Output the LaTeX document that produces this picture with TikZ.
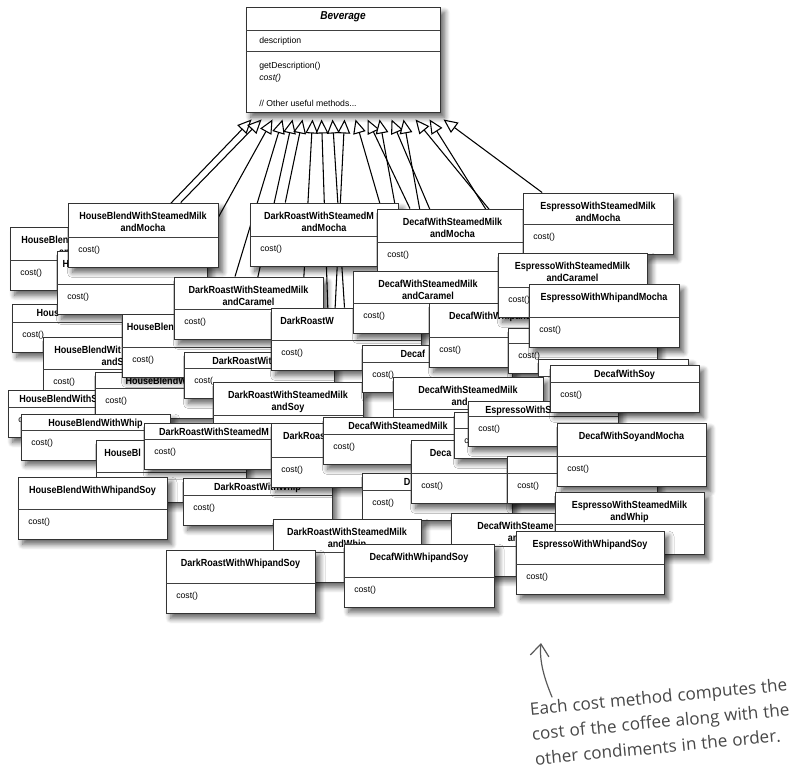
\documentclass[tikz,border=0pt]{standalone}
\usepackage{fontspec}
\setmainfont{Liberation Sans}
\newfontfamily\titlefont{Liberation Sans}[FakeStretch=0.88]
\newfontfamily\handfont{Open Sans}
\usetikzlibrary{arrows.meta,calc,fit,shadows.blur}
\pgfdeclarelayer{links}
\pgfsetlayers{links,main}

\tikzset{
  classframe/.style={draw=black!80, line width=0.7pt, fill=white, inner sep=0pt,
    blur shadow={shadow xshift=3.5pt, shadow yshift=-4pt, shadow blur radius=4pt,
                 shadow blur steps=7, shadow opacity=62}},
  classrule/.style={draw=black!75, line width=0.6pt},
  classtitle/.style={font=\titlefont\bfseries\fontsize{7.7pt}{9.4pt}\selectfont,
    align=center, anchor=north, inner sep=0pt},
  classop/.style={font=\fontsize{6.5pt}{8pt}\selectfont, anchor=west, inner sep=0pt},
  generalization/.style={draw=black, line width=0.8pt,
    -{Triangle[length=10.5pt,width=9.5pt,fill=white,line width=0.8pt]}},
  noteword/.style={font=\handfont\fontsize{12.8pt}{15pt}\selectfont, text=black!72,
    inner sep=0pt, anchor=base west, rotate=5.5},
  notearrow/.style={draw=black!65, line width=0.9pt, line cap=round,
    -{Straight Barb[length=9pt,width=14pt,line width=0.9pt]}},
}

% the part of a label that sits under a box in front keeps its room but is not set
\newcommand\hid[1]{\phantom{#1}}

% \umlclass[operation]{name}{left}{top}{width}{header height}{title}
\newcommand\umlclass[7][cost()]{%
  \pgfmathsetmacro\umltitletop{#4+((#6)>25?8.6:4.4)}%
  \node[classframe, fit={(#3,#4) (#3+#5,#4+#6+30)}] (#2) {};
  \draw[classrule] (#3,#4+#6) -- (#3+#5,#4+#6);
  \node[classtitle] (#2-title) at (#3+#5/2,\umltitletop) {#7};
  \node[classop] (#2-op) at (#3+10,#4+#6+13) {#1};
}

% \noteline{name}{start}{words}: one slanted line of the remark, word by word
\newcommand\noteline[3]{%
  \node[noteword] (#1-0) at #2 {};
  \foreach \w [count=\i, evaluate=\i as \j using int(\i-1)] in {#3}
    \node[noteword] (#1-\i) at ($(#1-\j.base east)+(5.5:3.4pt)$) {\w};
}

\begin{document}
\begin{tikzpicture}[x=0.75pt,y=-0.75pt]
\useasboundingbox (0,0) rectangle (810,775);

% abstract superclass
\node[classframe, fit={(246,7) (440,112)}] (bev) {};
\draw[classrule] (246,30) -- (440,30);
\draw[classrule] (246,51) -- (440,51);
\node[classtitle, anchor=center, font=\titlefont\bfseries\itshape\fontsize{8.6pt}{10pt}\selectfont]
  (bev-title) at (343,17) {Beverage};
\node[classop] (bev-attr) at (259,41) {description};
\node[classop] (bev-op1) at (259,66) {getDescription()};
\node[classop] (bev-op2) at (259,78) {\itshape cost()};
\node[classop] (bev-op3) at (259,103) {// Other useful methods...};

\foreach \n/\dx in {1/6,2/16,3/27,4/37,5/47,6/57,7/67,8/76,9/87,10/99,
                    11/110,12/122,13/134,14/146,15/158,16/170,17/184,18/198}
  \coordinate (tip\n) at ($(bev.south west)+(\dx,7)$);

% subclasses, back to front
\umlclass{A}{10}{227}{150}{33}{HouseBlen\hid{dWithSteamedMilk}\\an\hid{dCaramel}}
\umlclass{D}{12}{304}{150}{18}{Hous\hid{eBlendWithMocha}}
\umlclass{B}{57}{251}{150}{33}{H\hid{ouseBlendWithWhipandMocha}}
\umlclass{C}{68}{203}{150}{34}{HouseBlendWithSteamedMilk\\andMocha}
\umlclass{E}{43}{337}{150}{32}{HouseBlendWit\hid{hSteamedMilk}\\andS\hid{oy}}
\umlclass[c\hid{ost()}]{H}{8}{390}{150}{17}{HouseBlendWithS\hid{teamedMilk}}
\umlclass{G}{95}{372}{150}{16}{HouseBlendW\hid{ithSoy}}
\umlclass{F}{122}{314}{150}{33}{HouseBlen\hid{dWithSoyandCaramel}}
\umlclass{M}{174}{277}{149}{32}{DarkRoastWithSteamedMilk\\andCaramel}
\umlclass[cost(\hid{)}]{O}{184}{352}{150}{16}{DarkRoastWit\hid{hMocha}}
\umlclass{N}{271}{308}{150}{32}{DarkRoastW\hid{ithWhipandMocha}}
\umlclass[\hid{cost()}]{P}{213}{382}{150}{33}{DarkRoastWithSteamedMilk\\andSoy}
\umlclass{I}{21}{414}{149}{16}{HouseBlendWithWhip}
\umlclass[\hid{cost()}]{J}{96}{440}{150}{32}{HouseBl\hid{endWithSoyandMocha}}
\umlclass{Q}{144}{423}{150}{16}{DarkRoastWithSteamedM\hid{ilk}}
\umlclass{K}{18}{477}{149}{32}{HouseBlendWithWhipandSoy}
\umlclass{S}{183}{478}{149}{17}{DarkRoastWithWhip}
\umlclass{R}{271}{423}{150}{34}{DarkRoas\hid{tWithSoyandMocha}}
\umlclass{L}{250}{203}{148}{33}{DarkRoastWithSteamedM\hid{ilk}\\andMocha}
\umlclass{W}{377}{209}{151}{33}{DecafWithSteamedMilk\\andMocha}
\umlclass{X}{523}{193}{150}{31}{EspressoWithSteamedMilk\\andMocha}
\umlclass{Y}{353}{271}{150}{32}{DecafWithSteamedMilk\\andCaramel}
\umlclass{AF}{362}{345}{150}{17}{Decaf\hid{WithMocha}}
\umlclass{AA}{429}{303}{151}{34}{DecafWithWhipand\hid{Mocha}}
\umlclass{Z}{498}{253}{149}{34}{EspressoWithSteamedMilk\\andCaramel}
\umlclass{AC}{508}{328}{149}{15}{\hid{EspressoWithMocha}}
\umlclass{AB}{529}{284}{150}{33}{EspressoWithWhipandMocha}
\umlclass[\hid{cost()}]{AD}{538}{359}{150}{17}{\hid{EspressoWithCaramel}}
\umlclass[\hid{cost()}]{AG}{393}{377}{150}{32}{DecafWithSteamedMilk\\and\hid{Soy}}
\umlclass{AJ}{323}{417}{150}{17}{DecafWithSteamedMilk}
\umlclass{AL}{362}{473}{150}{17}{D\hid{ecafWithWhip}}
\umlclass{AK}{411}{440}{150}{33}{Deca\hid{fWithSoyandCaramel}}
\umlclass[c\hid{ost()}]{AI}{454}{412}{150}{16}{\hid{EspressoWithSoy}}
\umlclass{AH}{468}{401}{150}{15}{EspressoWithS\hid{teamedMilk}}
\umlclass{AE}{550}{365}{149}{17}{DecafWithSoy}
\umlclass{AM}{507}{456}{150}{17}{\hid{Espre}E\hid{ssoWithWhip}}
\umlclass{AN}{557}{423}{149}{33}{DecafWithSoyandMocha}
\umlclass[\hid{cost()}]{T}{273}{519}{148}{33}{DarkRoastWithSteamedMilk\\andWhip}
\umlclass[\hid{cost()}]{AP}{451}{513}{152}{33}{DecafWithSteame\hid{dMilk}\\an\hid{dWhip}}
\umlclass[\hid{cost()}]{AO}{555}{492}{149}{32}{EspressoWithSteamedMilk\\andWhip}
\umlclass{AQ}{516}{531}{148}{33}{EspressoWithWhipandSoy}
\umlclass{U}{166}{550}{149}{33}{DarkRoastWithWhipandSoy}
\umlclass{V}{344}{544}{150}{33}{DecafWithWhipandSoy}

% inheritance links, kept behind the class boxes
\begin{pgfonlayer}{links}
\draw[generalization] ($(A.north west)!0.92!(A.north east)$) -- (tip1);
\draw[generalization] ($(C.north west)!0.75!(C.north east)$) -- (tip2);
\draw[generalization] ($(B.north west)!0.95!(B.north east)$) -- (tip3);
\draw[generalization] ($(M.north west)!0.41!(M.north east)$) -- (tip4);
\draw[generalization] ($(F.north west)!0.85!(F.north east)$) -- (tip5);
\draw[generalization] ($(L.north west)!0.24!(L.north east)$) -- (tip6);
\draw[generalization] ($(O.north west)!0.77!(O.north east)$) -- (tip7);
\draw[generalization] ($(P.north west)!0.78!(P.north east)$) -- (tip8);
\draw[generalization] ($(N.north west)!0.49!(N.north east)$) -- (tip9);
\draw[generalization] ($(R.north west)!0.39!(R.north east)$) -- (tip10);
\draw[generalization] ($(Y.north west)!0.31!(Y.north east)$) -- (tip11);
\draw[generalization] ($(W.north west)!0.22!(W.north east)$) -- (tip12);
\draw[generalization] ($(AF.north west)!0.39!(AF.north east)$) -- (tip13);
\draw[generalization] ($(AA.north west)!0.27!(AA.north east)$) -- (tip14);
\draw[generalization] ($(AG.north west)!0.38!(AG.north east)$) -- (tip15);
\draw[generalization] ($(Z.north west)!0.18!(Z.north east)$) -- (tip16);
\draw[generalization] ($(AC.north west)!0.35!(AC.north east)$) -- (tip17);
\draw[generalization] ($(X.north west)!0.13!(X.north east)$) -- (tip18);
\end{pgfonlayer}

% handwritten remark
\noteline{noteA}{(524,716)}{Each,cost,method,computes,the}
\noteline{noteB}{(526,741)}{cost,of,the,coffee,along,with,the}
\noteline{noteC}{(529,766)}{other,condiments,in,the,order.}
\coordinate (notefoot) at (552,697);
\coordinate (notetip) at (541,643);
\draw[notearrow] (notefoot) .. controls (545,680) and (539,662) .. (notetip);
\end{tikzpicture}
\end{document}
